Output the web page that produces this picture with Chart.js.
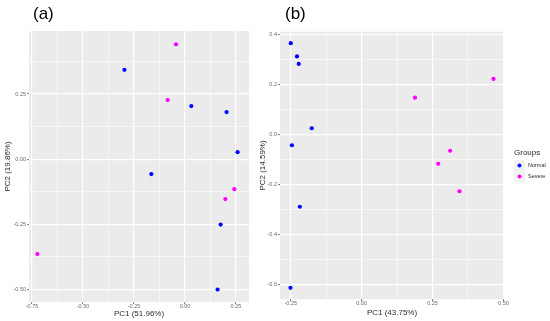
<!DOCTYPE html>
<html>
<head>
<meta charset="utf-8">
<script src="https://cdn.jsdelivr.net/npm/chart.js@4/dist/chart.umd.min.js"></script>
<style>
  body { margin: 0; background: #fff; }
  #wrap { position: relative; width: 550px; height: 321px; overflow: hidden; font-family: "Liberation Sans", Arial, sans-serif; }
  canvas { position: absolute; top: 0; }
  #grafA { left: 0; }
  #grafB { left: 255px; }
  .painel { position: absolute; top: 4px; font-size: 17px; color: #000; }
</style>
</head>
<body>
<div id="wrap">
  <canvas id="grafA" width="255" height="321"></canvas>
  <canvas id="grafB" width="295" height="321"></canvas>
  <div class="painel" style="left:33px">(a)</div>
  <div class="painel" style="left:285px">(b)</div>
</div>
<script>
// painel (a)
const normalA = [[-0.297, 0.343], [0.031, 0.204], [0.204, 0.181], [0.258, 0.027], [-0.165, -0.057], [0.175, -0.251], [0.160, -0.500]];
const severeA = [[-0.044, 0.441], [-0.085, 0.227], [0.242, -0.115], [0.198, -0.153], [-0.724, -0.364]];
const ticksXA = [-0.75, -0.5, -0.25, 0, 0.25];
const labelsXA = ["-0.75", "-0.50", "-0.25", "0.00", "0.25"];
const ticksYA = [-0.5, -0.25, 0, 0.25];
const labelsYA = ["-0.50", "-0.25", "0.00", "0.25"];

// painel (b)
const normalB = [[-0.250, 0.364], [-0.228, 0.311], [-0.222, 0.281], [-0.176, 0.024], [-0.246, -0.044], [-0.218, -0.290], [-0.251, -0.614]];
const severeB = [[0.465, 0.221], [0.188, 0.146], [0.312, -0.066], [0.270, -0.118], [0.345, -0.228]];
const ticksXB = [-0.25, 0, 0.25, 0.5];
const labelsXB = ["-0.25", "0.00", "0.25", "0.50"];
const ticksYB = [-0.6, -0.4, -0.2, 0, 0.2, 0.4];
const labelsYB = ["-0.6", "-0.4", "-0.2", "0.0", "0.2", "0.4"];

const grupos = ["Normal", "Severe"];
const cores = ["#0000FF", "#FF00FF"];

const fonte = "'Liberation Sans', Arial, sans-serif";

function montaTicks(valores, min, max) {
  const lista = valores.map(v => ({ value: v, minor: false }));
  const passo = valores[1] - valores[0];
  [valores[0] - passo].concat(valores).forEach(v => {
    const meio = v + passo / 2;
    if (meio > min && meio < max) lista.push({ value: meio, minor: true });
  });
  return lista.sort((a, b) => a.value - b.value);
}

function eixo(valores, rotulos, min, max, titulo, vertical, tamanho, tituloPad) {
  return {
    type: 'linear',
    position: vertical ? 'left' : 'bottom',
    min: min,
    max: max,
    afterBuildTicks: s => { s.ticks = montaTicks(valores, min, max); },
    afterFit: s => { if (vertical) s.width = tamanho; else s.height = tamanho; },
    border: { display: false },
    grid: {
      color: '#FFFFFF',
      lineWidth: c => (c.tick && c.tick.minor) ? 0.6 : 1.2,
      tickLength: 2,
      tickColor: c => (c.tick && c.tick.minor) ? 'rgba(0,0,0,0)' : '#555555',
      tickWidth: 0.8
    },
    ticks: {
      autoSkip: false,
      maxRotation: 0,
      padding: vertical ? 1 : -1,
      color: '#6b6b6b',
      font: { family: fonte, size: 5.5 },
      callback: function (v) {
        const i = valores.findIndex(x => Math.abs(x - v) < 1e-9);
        return i >= 0 ? rotulos[i] : '';
      }
    },
    title: {
      display: true,
      text: titulo,
      color: '#2b2b2b',
      font: { family: fonte, size: 8 },
      padding: tituloPad
    }
  };
}

const fundoPainel = {
  id: 'fundoPainel',
  beforeDraw(chart) {
    const a = chart.chartArea;
    const ctx = chart.ctx;
    ctx.save();
    ctx.fillStyle = '#EBEBEB';
    ctx.fillRect(a.left, a.top, a.right - a.left, a.bottom - a.top);
    ctx.restore();
  }
};

const legendaGgplot = {
  id: 'legendaGgplot',
  afterDraw(chart, args, opts) {
    if (!opts.mostra) return;
    const ctx = chart.ctx;
    const x0 = 259, y0 = 153;
    ctx.save();
    ctx.fillStyle = '#2b2b2b';
    ctx.font = "8px " + fonte;
    ctx.textBaseline = 'middle';
    ctx.fillText('Groups', x0, y0);
    chart.data.datasets.forEach((ds, i) => {
      const yk = y0 + 7 + i * 11;
      ctx.fillStyle = '#F2F2F2';
      ctx.fillRect(x0, yk, 11, 11);
      ctx.fillStyle = ds.backgroundColor;
      ctx.beginPath();
      ctx.arc(x0 + 5.5, yk + 5.5, 2, 0, Math.PI * 2);
      ctx.fill();
      ctx.fillStyle = '#2b2b2b';
      ctx.font = "5.5px " + fonte;
      ctx.fillText(ds.label, x0 + 14, yk + 5.8);
    });
    ctx.restore();
  }
};

function dados(normal, severe) {
  return {
    datasets: [normal, severe].map((serie, i) => ({
      label: grupos[i],
      data: serie.map(p => ({ x: p[0], y: p[1] })),
      backgroundColor: cores[i],
      borderColor: cores[i],
      pointRadius: 2.1,
      borderWidth: 0
    }))
  };
}

function opcoes(escalaX, escalaY, padding, legenda) {
  return {
    responsive: false,
    animation: false,
    layout: { padding: padding },
    plugins: {
      legend: { display: false },
      tooltip: { enabled: false },
      legendaGgplot: { mostra: legenda }
    },
    scales: { x: escalaX, y: escalaY }
  };
}

new Chart(document.querySelector('#grafA'), {
  type: 'scatter',
  data: dados(normalA, severeA),
  options: opcoes(
    eixo(ticksXA, labelsXA, -0.765, 0.314, 'PC1 (51.96%)', false, 19, { top: 0, bottom: 2.5 }),
    eixo(ticksYA, labelsYA, -0.548, 0.492, 'PC2 (19.86%)', true, 29, { top: 3, bottom: 0 }),
    { top: 31, right: 6, bottom: 0, left: 0 },
    false
  ),
  plugins: [fundoPainel, legendaGgplot]
});

new Chart(document.querySelector('#grafB'), {
  type: 'scatter',
  data: dados(normalB, severeB),
  options: opcoes(
    eixo(ticksXB, labelsXB, -0.288, 0.502, 'PC1 (43.75%)', false, 21.7, { top: 0, bottom: 3.5 }),
    eixo(ticksYB, labelsYB, -0.66, 0.41, 'PC2 (14.59%)', true, 25, { top: 3, bottom: 0 }),
    { top: 31.7, right: 46, bottom: 0, left: 0 },
    true
  ),
  plugins: [fundoPainel, legendaGgplot]
});
</script>
</body>
</html>
